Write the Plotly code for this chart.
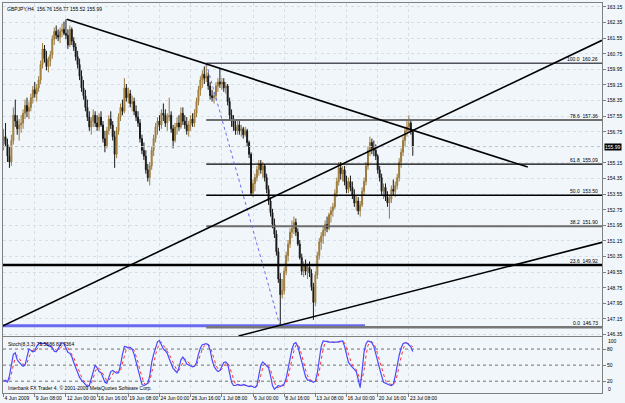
import plotly.graph_objects as go

# ---------------- data ----------------
bar_open = [156.3,156.5,156.1,155.5,155.2,156.3,157.6,157.3,156.9,157.1,
 157.2,157.7,158.1,157.8,158.0,158.5,158.9,158.7,159.0,159.4,
 160.2,161.0,160.5,160.1,160.4,160.7,161.5,161.9,161.7,161.6,
 161.9,162.0,161.8,161.7,161.2,162.0,161.4,161.1,160.6,160.2,
 159.6,159.0,158.6,158.0,157.5,157.0,157.3,157.6,157.2,157.0,
 157.5,157.1,156.4,156.0,156.8,157.4,157.1,156.5,155.6,156.8,
 157.5,158.0,157.8,159.0,158.5,158.7,158.2,158.3,157.8,157.5,
 157.2,156.4,155.8,155.5,154.8,154.4,155.0,155.8,156.4,157.0,
 157.3,157.1,157.7,157.6,157.2,157.5,157.6,156.9,156.3,157.0,
 157.2,157.0,157.7,157.3,157.1,156.8,157.1,157.4,157.2,157.7,
 158.3,158.9,159.4,159.7,159.5,159.6,159.1,158.6,158.5,158.6,
 159.1,159.3,159.2,159.3,159.0,159.1,158.3,157.6,157.3,157.0,
 156.8,157.1,156.8,156.9,156.6,156.8,156.2,155.6,153.6,154.1,
 154.4,154.8,155.1,154.8,155.0,154.4,153.8,153.2,152.6,152.0,
 151.5,150.6,149.2,148.4,148.6,149.6,150.4,151.0,151.6,151.8,
 152.1,151.6,151.0,150.3,149.6,149.9,149.6,149.8,149.5,148.8,
 148.0,149.4,150.4,151.1,151.4,151.7,152.0,151.8,152.5,152.7,
 152.9,153.6,154.2,154.9,154.6,154.8,154.2,153.8,154.2,153.9,
 153.5,153.1,153.2,152.7,153.0,153.7,154.2,155.0,155.8,156.2,
 155.9,155.8,155.5,154.8,154.4,153.7,153.9,153.4,153.1,153.3,
 153.8,153.7,154.0,154.4,155.2,155.7,156.3,156.8,157.0,157.2,
 156.76]
bar_high = [156.9,157.2,156.4,156.0,156.6,158.0,158.4,157.6,157.4,157.6,
 157.9,158.4,158.5,158.3,158.7,159.1,159.3,159.2,159.6,160.4,
 161.3,161.2,160.9,160.6,160.9,161.7,162.1,162.2,162.0,162.1,
 162.3,162.4,162.52,162.0,162.2,162.1,161.6,161.3,160.9,160.5,
 159.9,159.4,158.9,158.4,157.8,157.5,157.9,157.8,157.6,157.7,
 157.8,157.3,156.8,157.0,157.6,157.8,157.3,156.8,157.0,157.7,
 158.2,158.4,159.5,159.2,159.0,158.9,158.6,158.5,158.1,157.8,
 157.4,156.6,156.2,155.8,155.1,155.2,156.0,156.6,157.2,157.5,
 157.6,157.9,158.2,157.9,157.7,158.5,157.8,157.1,157.2,157.5,
 157.6,158.0,158.0,157.6,157.5,157.3,157.6,157.7,157.9,158.5,
 159.1,159.6,159.9,160.1,160.26,159.8,159.3,158.9,158.8,159.3,
 159.5,160.0,159.5,159.5,159.3,159.2,158.5,157.9,157.6,157.4,
 157.3,157.3,157.1,157.0,157.0,156.9,156.3,155.7,154.3,154.6,
 155.0,155.3,155.3,155.2,155.1,154.6,154.0,153.4,152.8,152.3,
 151.7,150.8,149.5,149.2,149.8,150.6,151.2,151.8,152.2,152.4,
 152.3,151.8,151.2,150.5,150.1,150.2,150.0,150.1,149.7,149.0,
 149.6,150.6,151.3,151.6,151.9,152.2,152.4,152.6,152.9,153.1,
 153.8,154.4,155.2,155.2,155.0,155.0,154.5,154.4,154.5,154.2,
 153.8,153.5,153.4,153.2,153.9,154.4,155.2,156.0,156.5,156.4,
 156.3,156.1,155.6,155.0,154.6,154.1,154.1,153.7,153.5,154.0,
 154.3,154.2,154.6,155.4,155.9,156.5,157.0,157.3,157.6,157.4,
 156.77]
bar_low = [155.8,156.0,155.2,154.9,155.0,156.1,157.0,156.6,156.3,156.7,
 156.9,157.4,157.5,157.4,157.8,158.2,158.5,158.3,158.8,159.2,
 160.0,160.3,159.9,159.8,160.1,160.5,161.2,161.5,161.4,161.3,
 161.6,161.7,161.5,161.0,161.1,161.2,160.9,160.4,160.0,159.4,
 158.8,158.4,157.8,157.3,156.8,156.6,157.0,157.0,156.8,156.8,
 157.0,156.2,155.7,155.9,156.6,156.9,156.3,154.9,155.4,156.6,
 157.3,157.6,157.7,158.3,158.2,158.0,157.8,157.6,157.3,157.0,
 156.2,155.6,155.3,154.6,154.2,154.0,154.8,155.5,156.2,156.6,
 156.8,156.9,157.3,157.0,156.8,157.3,156.7,155.9,156.2,156.6,
 156.8,156.9,157.1,156.9,156.6,156.5,156.8,157.0,157.0,157.5,
 158.1,158.6,159.0,159.2,159.3,158.9,158.4,158.3,158.2,158.4,
 158.8,159.0,158.9,158.8,158.7,158.1,157.4,157.0,156.8,156.6,
 156.6,156.6,156.5,156.4,156.5,156.0,155.4,153.5,153.4,153.7,
 154.2,154.5,154.6,154.4,154.2,153.6,153.0,152.4,151.8,151.3,
 150.4,149.0,146.73,148.2,148.4,149.4,150.1,150.8,151.3,151.5,
 151.4,150.9,150.2,149.4,149.3,149.4,149.2,149.3,148.6,147.1,
 147.8,149.2,150.2,150.7,151.0,151.4,151.6,151.7,152.1,152.4,
 152.8,153.4,154.0,154.3,154.2,154.0,153.6,153.6,153.7,153.3,
 152.9,152.7,152.5,152.4,152.9,153.5,154.0,154.8,155.5,155.6,
 155.5,155.3,154.6,154.2,153.5,153.3,153.2,152.9,152.3,153.1,
 153.5,153.4,153.8,154.2,154.9,155.5,156.0,156.5,156.7,156.6,
 155.52]
bar_close = [156.5,156.1,155.5,155.2,156.3,157.6,157.3,156.9,157.1,157.2,
 157.7,158.1,157.8,158.0,158.5,158.9,158.7,159.0,159.4,160.2,
 161.0,160.5,160.1,160.4,160.7,161.5,161.9,161.7,161.6,161.9,
 162.0,161.8,161.7,161.2,162.0,161.4,161.1,160.6,160.2,159.6,
 159.0,158.6,158.0,157.5,157.0,157.3,157.6,157.2,157.0,157.5,
 157.1,156.4,156.0,156.8,157.4,157.1,156.5,155.6,156.8,157.5,
 158.0,157.8,159.0,158.5,158.7,158.2,158.3,157.8,157.5,157.2,
 156.4,155.8,155.5,154.8,154.4,155.0,155.8,156.4,157.0,157.3,
 157.1,157.7,157.6,157.2,157.5,157.6,156.9,156.3,157.0,157.2,
 157.0,157.7,157.3,157.1,156.8,157.1,157.4,157.2,157.7,158.3,
 158.9,159.4,159.7,159.5,159.6,159.1,158.6,158.5,158.6,159.1,
 159.3,159.2,159.3,159.0,159.1,158.3,157.6,157.3,157.0,156.8,
 157.1,156.8,156.9,156.6,156.8,156.2,155.6,153.6,154.1,154.4,
 154.8,155.1,154.8,155.0,154.4,153.8,153.2,152.6,152.0,151.5,
 150.6,149.2,148.4,148.6,149.6,150.4,151.0,151.6,151.8,152.1,
 151.6,151.0,150.3,149.6,149.9,149.6,149.8,149.5,148.8,148.0,
 149.4,150.4,151.1,151.4,151.7,152.0,151.8,152.5,152.7,152.9,
 153.6,154.2,154.9,154.6,154.8,154.2,153.8,154.2,153.9,153.5,
 153.1,153.2,152.7,153.0,153.7,154.2,155.0,155.8,156.2,155.9,
 155.8,155.5,154.8,154.4,153.7,153.9,153.4,153.1,153.3,153.8,
 153.7,154.0,154.4,155.2,155.7,156.3,156.8,157.0,157.2,156.76,
 155.99]

stoch_main = [20,22,18,30,50,70,73,60,55,52,48,50,65,80,78,75,76,85,90,91,
 90,91,89,86,85,82,76,75,80,88,92,90,82,74,72,66,55,45,35,27,
 22,18,12,10,12,25,40,50,45,38,36,28,18,16,28,38,40,38,35,36,
 50,70,85,84,82,83,80,70,55,40,25,14,12,14,16,30,55,70,85,94,
 96,88,80,77,72,62,52,44,40,36,45,60,65,60,52,50,48,47,48,55,
 70,82,88,89,90,88,78,60,48,42,38,40,48,55,56,52,35,18,12,12,
 14,13,12,14,13,12,10,11,9,8,12,30,50,56,52,48,45,30,12,5,
 8,12,10,12,15,25,45,62,80,90,92,85,70,55,40,28,22,22,20,18,
 20,35,60,85,95,95,94,93,93,92,92,93,94,95,95,85,70,55,50,45,
 42,38,20,8,40,75,90,95,94,92,85,70,55,45,30,18,16,15,13,12,
 14,30,50,68,82,90,92,91,88,84,75.56]
stoch_signal = [22,21,20,23,33,50,64,68,63,56,52,50,54,64,74,78,76,79,84,89,
 90,91,90,89,87,84,81,78,77,81,87,90,88,82,76,71,64,55,45,36,
 28,22,17,13,11,16,26,38,45,44,40,34,27,21,21,27,35,39,38,36,
 40,52,68,80,84,83,82,78,68,55,40,26,17,13,14,20,34,52,70,83,
 92,93,88,82,76,70,62,53,45,40,40,47,57,62,59,54,50,48,48,50,
 58,69,80,86,89,89,85,75,62,50,43,40,42,48,53,54,48,35,22,14,
 13,13,13,13,13,13,12,11,10,9,10,17,31,45,53,52,48,41,29,16,
 8,8,10,11,12,17,28,44,62,77,87,89,82,70,55,41,30,24,21,20,
 19,24,38,60,80,92,95,94,93,93,92,92,93,94,95,92,83,70,58,50,
 46,42,33,22,23,41,68,87,93,94,90,82,70,57,43,31,21,16,15,13,
 13,19,31,49,67,80,88,91,90,88,83.74]

bars = list(range(len(bar_close)))

price_ticks = [163.15,162.35,161.55,160.75,159.95,159.15,158.35,157.55,156.75,
 155.15,154.35,153.55,152.75,151.95,151.15,150.35,149.55,148.75,147.95,147.15,146.35]
time_tick_bars = [0,16,32,48,64,80,96,112,128,144,160,176,192,208]
time_tick_text = ["4 Jun 2009","9 Jun 08:00","12 Jun 00:00","16 Jun 16:00","19 Jun 08:00",
 "24 Jun 00:00","26 Jun 16:00","1 Jul 08:00","6 Jul 00:00","8 Jul 16:00",
 "13 Jul 08:00","16 Jul 00:00","20 Jul 16:00","23 Jul 08:00"]
stoch_ticks = [20,50,80]
stoch_edge_ticks = [100,0]
stoch_levels = [20,50,80]

fib_pct = ["100.0","78.6","61.8","50.0","38.2","23.6","0.0"]
fib_price = [160.26,157.36,155.09,153.50,151.90,149.92,146.73]
fib_start_bar = 104
fib_anchor_bars = [104, 142]
fib_anchor_prices = [160.26, 146.73]

# trend lines (bar index, price) endpoints
down_line_x = [32.4, 269.0]; down_line_y = [162.52, 154.94]
up_line_x = [-0.3, 307.1]; up_line_y = [146.80, 161.44]
low_line_x = [120.6, 307.1]; low_line_y = [146.28, 151.08]
blue_hline_x = [-0.3, 185.5]; blue_hline_y = [146.80, 146.80]
current_price = 155.99
header = "GBPJPY,H4  156.76 156.77 155.52 155.99"
stoch_title = "Stoch(8,3,3) 75.5586 83.7364"
copyright_txt = "Interbank FX Trader 4, \u00a9 2001-2009 MetaQuotes Software Corp."

X_RANGE = [-0.3, 307.1]
BG = "#F1F6FA"
FONT = "Liberation Sans"

fig = go.Figure()

# current price dotted line
fig.add_trace(go.Scatter(x=X_RANGE, y=[current_price]*2, mode="lines",
    line=dict(color="#B8C4D0", width=1, dash="dot"), hoverinfo="skip", xaxis="x", yaxis="y"))

# blue horizontal line near the low
fig.add_trace(go.Scatter(x=blue_hline_x, y=blue_hline_y, mode="lines",
    line=dict(color="#6A6AF0", width=3), hoverinfo="skip"))

# fib lines
fib_styles = {"100.0": ("#50505C", 1.5), "78.6": ("#6E6E6E", 2), "61.8": ("#000000", 1.2),
              "50.0": ("#000000", 1.5), "38.2": ("#6E6E6E", 2), "23.6": ("#000000", 2.5),
              "0.0": ("#777777", 2.5)}
for pct, pr in zip(fib_pct, fib_price):
    col, w = fib_styles[pct]
    x0 = X_RANGE[0] if pct == "23.6" else fib_start_bar
    fig.add_trace(go.Scatter(x=[x0, X_RANGE[1]], y=[pr, pr], mode="lines",
        line=dict(color=col, width=w), hoverinfo="skip"))

# fib baseline (dotted blue)
fig.add_trace(go.Scatter(x=fib_anchor_bars, y=fib_anchor_prices, mode="lines",
    line=dict(color="#6A6AF0", width=1, dash="dot"), hoverinfo="skip"))

# candles
fig.add_trace(go.Candlestick(x=bars, open=bar_open, high=bar_high, low=bar_low, close=bar_close,
    increasing=dict(line=dict(color="#9A7A3C", width=1), fillcolor="#C08A2E"),
    decreasing=dict(line=dict(color="#1A1A1A", width=1), fillcolor="#000000"),
    whiskerwidth=0, hoverinfo="skip"))

# trend lines
for lx, ly in [(down_line_x, down_line_y), (up_line_x, up_line_y), (low_line_x, low_line_y)]:
    fig.add_trace(go.Scatter(x=lx, y=ly, mode="lines", line=dict(color="#000000", width=1.6),
        hoverinfo="skip"))

# stochastic levels
for lv in stoch_levels:
    fig.add_trace(go.Scatter(x=X_RANGE, y=[lv, lv], mode="lines", xaxis="x2", yaxis="y2",
        line=dict(color="#707070", width=1, dash="dot"), hoverinfo="skip"))
fig.add_trace(go.Scatter(x=bars, y=stoch_signal, mode="lines", xaxis="x2", yaxis="y2",
    line=dict(color="#FF3030", width=1, dash="dot"), hoverinfo="skip"))
fig.add_trace(go.Scatter(x=bars, y=stoch_main, mode="lines", xaxis="x2", yaxis="y2",
    line=dict(color="#4A4AFF", width=1.2), hoverinfo="skip"))

annotations = []
for pct, pr in zip(fib_pct, fib_price):
    annotations.append(dict(x=X_RANGE[1] - 1, y=pr, xref="x", yref="y", text=f"{pct}  {pr:.2f}",
        showarrow=False, xanchor="right", yanchor="bottom", yshift=-1,
        font=dict(family=FONT, size=5, color="#000000")))
annotations.append(dict(x=1.0, y=current_price, xref="paper", yref="y", text=f"{current_price:.2f}",
    showarrow=False, xanchor="left", yanchor="middle", xshift=2, bgcolor="#000000",
    font=dict(family=FONT, size=5, color="#FFFFFF"), borderpad=0))
# stochastic edge labels (MT4 draws them inset from the panel edges)
for v, sh in zip(stoch_edge_ticks, [-3, 3]):
    annotations.append(dict(x=1.0, y=v, xref="paper", yref="y2", text=str(v), showarrow=False,
        xanchor="left", yanchor="middle", xshift=4, yshift=sh,
        font=dict(family=FONT, size=5, color="#000000")))
annotations.append(dict(x=0, y=1, xref="paper", yref="paper", text=header, showarrow=False,
    xanchor="left", yanchor="top", xshift=2, yshift=-1, font=dict(family=FONT, size=5, color="#000000")))
annotations.append(dict(x=0, y=0.142, xref="paper", yref="paper", text=stoch_title, showarrow=False,
    xanchor="left", yanchor="top", xshift=3, yshift=-1, font=dict(family=FONT, size=5, color="#000000")))
annotations.append(dict(x=0, y=0, xref="paper", yref="paper", text=copyright_txt, showarrow=False,
    xanchor="left", yanchor="bottom", xshift=3, yshift=0, font=dict(family=FONT, size=5, color="#000000")))

axis_common = dict(showline=True, linecolor="#808080", linewidth=1, mirror=True, zeroline=False)

fig.update_layout(
    width=625, height=403, showlegend=False,
    margin=dict(l=2, r=19, t=2, b=9),
    paper_bgcolor=BG, plot_bgcolor=BG,
    annotations=annotations,
    xaxis=dict(domain=[0, 1], range=X_RANGE, anchor="y", showticklabels=False,
        tickvals=time_tick_bars, ticks="", showgrid=True, gridcolor="#D6DEE6", griddash="dot",
        rangeslider=dict(visible=False), **axis_common),
    yaxis=dict(domain=[0.1454, 1], range=[146.262, 163.354], side="right",
        tickvals=price_ticks, ticktext=[f"{v:.2f}" for v in price_ticks],
        ticks="outside", ticklen=3, tickcolor="#808080",
        tickfont=dict(family=FONT, size=5, color="#000000"),
        showgrid=True, gridcolor="#D6DEE6", griddash="dot", **axis_common),
    xaxis2=dict(domain=[0, 1], range=X_RANGE, anchor="y2",
        tickvals=time_tick_bars, ticktext=time_tick_text, ticks="outside", ticklen=3,
        tickcolor="#808080", ticklabelposition="outside right", tickangle=0,
        tickfont=dict(family=FONT, size=5, color="#000000"),
        showgrid=True, gridcolor="#D6DEE6", griddash="dot", **axis_common),
    yaxis2=dict(domain=[0, 0.1429], range=[-2, 102], side="right",
        tickvals=stoch_ticks, ticks="outside", ticklen=3, tickcolor="#808080",
        tickfont=dict(family=FONT, size=5, color="#000000"), showgrid=False, **axis_common),
)

fig.write_html("out.html")
